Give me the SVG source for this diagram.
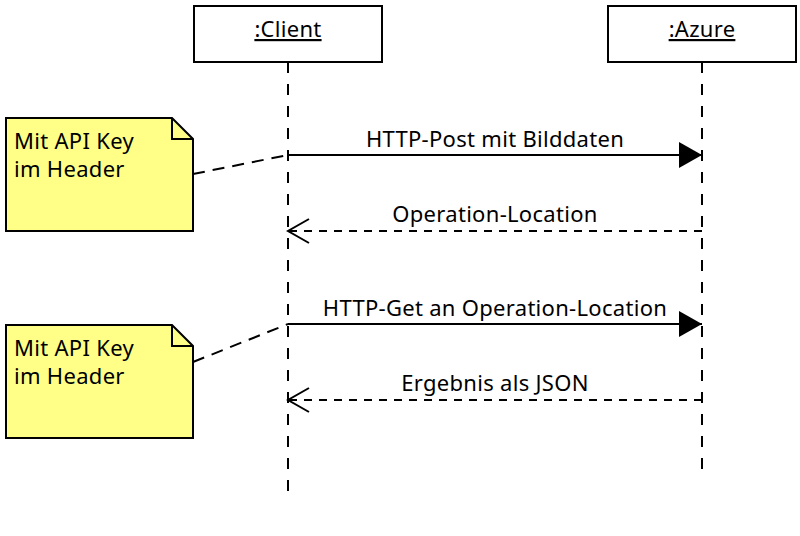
<svg xmlns="http://www.w3.org/2000/svg" width="800" height="536" viewBox="0 0 800 536">
<style>
text{font-family:"Noto Sans","Open Sans","DejaVu Sans",sans-serif;font-size:22px;letter-spacing:0.3px;fill:#000}
.box{fill:#fff;stroke:#000;stroke-width:2}
.life{stroke:#000;stroke-width:2;stroke-dasharray:11 11;fill:none}
.msg{stroke:#000;stroke-width:2;fill:none}
.ret{stroke:#000;stroke-width:2;stroke-dasharray:8 7;fill:none}
.note{fill:#ffff88;stroke:#000;stroke-width:2}
.nlink{stroke:#000;stroke-width:2;stroke-dasharray:12 8;fill:none}
.mid{text-anchor:middle}
</style>
<defs>
<marker id="filled" markerUnits="userSpaceOnUse" markerWidth="24" markerHeight="26" refX="23" refY="13" orient="auto">
<path d="M0,0 L23,13 L0,26 Z" fill="#000"/>
</marker>
<marker id="open" markerUnits="userSpaceOnUse" markerWidth="24" markerHeight="26" refX="22" refY="13" orient="auto">
<path d="M1,1 L22,13 L1,25" fill="none" stroke="#000" stroke-width="2"/>
</marker>
</defs>
<g id="client">
<rect class="box" x="194" y="6" width="188" height="56"/>
<text class="mid" x="288" y="37" text-decoration="underline">:Client</text>
</g>
<g id="azure">
<rect class="box" x="608" y="6" width="188" height="56"/>
<text class="mid" x="702" y="37" text-decoration="underline">:Azure</text>
</g>
<g id="note1">
<path class="note" d="M6,118 L172,118 L193,139 L193,231 L6,231 Z"/>
<path d="M172,118 L172,139 L193,139" fill="none" stroke="#000" stroke-width="2"/>
<text x="14" y="149">Mit API Key</text>
<text x="14" y="177">im Header</text>
</g>
<g id="note2">
<path class="note" d="M6,325 L172,325 L193,346 L193,438 L6,438 Z"/>
<path d="M172,325 L172,346 L193,346" fill="none" stroke="#000" stroke-width="2"/>
<text x="14" y="356">Mit API Key</text>
<text x="14" y="384">im Header</text>
</g>
<g id="connectors">
<line class="life" x1="288" y1="62" x2="288" y2="495"/>
<line class="life" x1="702" y1="62" x2="702" y2="476"/>
<line class="msg" x1="288" y1="155" x2="702" y2="155" marker-end="url(#filled)"/>
<line class="ret" x1="702" y1="231" x2="288" y2="231" marker-end="url(#open)"/>
<line class="msg" x1="288" y1="324" x2="702" y2="324" marker-end="url(#filled)"/>
<line class="ret" x1="702" y1="400" x2="288" y2="400" marker-end="url(#open)"/>
<line class="nlink" x1="193" y1="174" x2="288" y2="155"/>
<line class="nlink" x1="193" y1="362" x2="288" y2="324"/>
<text class="mid" x="495" y="147">HTTP-Post mit Bilddaten</text>
<text class="mid" x="495" y="222">Operation-Location</text>
<text class="mid" x="495" y="316">HTTP-Get an Operation-Location</text>
<text class="mid" x="495" y="391">Ergebnis als JSON</text>
</g>
</svg>
